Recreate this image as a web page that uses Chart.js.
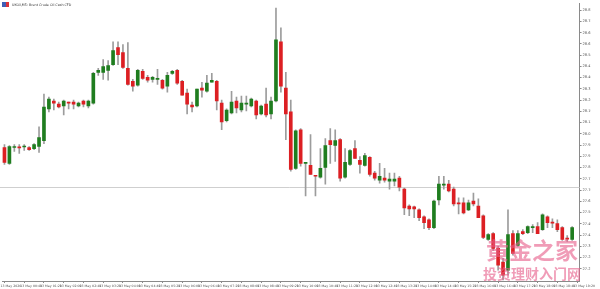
<!DOCTYPE html>
<html>
<head>
<meta charset="utf-8">
<script src="https://cdn.jsdelivr.net/npm/chart.js@4"></script>
<style>
html, body { margin: 0; padding: 0; background: #fff; }
</style>
</head>
<body>
<canvas id="chart" width="600" height="289"></canvas>
<script>
// candle prices, one entry per bar, left to right
const opens = [
    27.965, 27.866, 27.965, 27.965, 27.968, 27.965, 27.958, 27.971, 28.008, 28.205,
    28.254, 28.235, 28.223, 28.245, 28.248, 28.223, 28.254, 28.223, 28.241, 28.432,
    28.432, 28.445, 28.481, 28.586, 28.555, 28.457, 28.377, 28.352, 28.438, 28.401,
    28.389, 28.389, 28.383, 28.346, 28.426, 28.445, 28.377, 28.303, 28.229, 28.223,
    28.334, 28.315, 28.371, 28.377, 28.241, 28.131, 28.180, 28.254, 28.198, 28.235,
    28.223, 28.254, 28.174, 28.235, 28.174, 28.254, 28.623, 28.334, 28.186, 27.835,
    28.075, 27.866, 27.854, 27.792, 27.780, 27.841, 28.008, 27.977, 28.014, 27.780,
    27.860, 27.958, 27.885, 27.854, 27.903, 27.805, 27.761, 27.774, 27.755, 27.755,
    27.774, 27.706, 27.601, 27.595, 27.577, 27.534, 27.515, 27.466, 27.638, 27.731,
    27.737, 27.706, 27.620, 27.620, 27.577, 27.632, 27.601, 27.540, 27.392, 27.429,
    27.337, 27.251, 27.201, 27.429, 27.355, 27.441, 27.435, 27.466, 27.472, 27.454,
    27.534, 27.497, 27.491, 27.466, 27.398, 27.392
];
const highs = [
    27.983, 27.977, 27.983, 27.983, 27.983, 27.971, 27.989, 28.094, 28.297, 28.278,
    28.266, 28.248, 28.260, 28.248, 28.260, 28.248, 28.260, 28.260, 28.432, 28.457,
    28.512, 28.506, 28.623, 28.623, 28.605, 28.617, 28.389, 28.451, 28.451, 28.414,
    28.408, 28.451, 28.389, 28.432, 28.445, 28.451, 28.383, 28.328, 28.248, 28.328,
    28.371, 28.414, 28.426, 28.383, 28.260, 28.205, 28.315, 28.278, 28.285, 28.285,
    28.272, 28.260, 28.229, 28.334, 28.278, 28.832, 28.709, 28.432, 28.260, 28.075,
    28.082, 27.872, 28.045, 27.792, 27.958, 28.020, 28.082, 28.075, 28.020, 27.958,
    27.952, 28.008, 27.909, 27.928, 27.909, 27.817, 27.866, 27.835, 27.805, 27.805,
    27.786, 27.712, 27.608, 27.601, 27.583, 27.540, 27.521, 27.638, 27.786, 27.786,
    27.761, 27.718, 27.651, 27.651, 27.638, 27.681, 27.645, 27.546, 27.429, 27.435,
    27.349, 27.275, 27.577, 27.448, 27.448, 27.454, 27.478, 27.485, 27.497, 27.552,
    27.540, 27.521, 27.515, 27.472, 27.417, 27.472
];
const lows = [
    27.860, 27.860, 27.940, 27.928, 27.946, 27.946, 27.952, 27.934, 27.989, 28.186,
    28.198, 28.211, 28.168, 28.205, 28.205, 28.217, 28.217, 28.211, 28.235, 28.414,
    28.389, 28.383, 28.475, 28.481, 28.457, 28.352, 28.315, 28.346, 28.389, 28.371,
    28.371, 28.358, 28.328, 28.309, 28.420, 28.358, 28.291, 28.174, 28.186, 28.217,
    28.278, 28.309, 28.371, 28.198, 28.075, 28.124, 28.174, 28.180, 28.186, 28.192,
    28.217, 28.143, 28.168, 28.155, 28.143, 28.248, 28.309, 28.014, 27.817, 27.829,
    27.848, 27.663, 27.798, 27.663, 27.774, 27.737, 27.866, 27.878, 27.755, 27.774,
    27.854, 27.897, 27.805, 27.848, 27.786, 27.761, 27.743, 27.749, 27.706, 27.725,
    27.694, 27.546, 27.540, 27.528, 27.509, 27.460, 27.454, 27.460, 27.608, 27.706,
    27.688, 27.601, 27.552, 27.552, 27.571, 27.601, 27.528, 27.398, 27.386, 27.325,
    27.201, 27.140, 27.171, 27.294, 27.349, 27.423, 27.429, 27.435, 27.429, 27.448,
    27.466, 27.466, 27.441, 27.386, 27.380, 27.386
];
const closes = [
    27.872, 27.971, 27.971, 27.962, 27.971, 27.952, 27.983, 28.026, 28.217, 28.266,
    28.241, 28.217, 28.254, 28.241, 28.235, 28.241, 28.235, 28.254, 28.426, 28.445,
    28.469, 28.475, 28.568, 28.543, 28.463, 28.358, 28.346, 28.445, 28.395, 28.383,
    28.401, 28.392, 28.334, 28.414, 28.438, 28.365, 28.291, 28.235, 28.217, 28.328,
    28.321, 28.365, 28.383, 28.254, 28.124, 28.198, 28.248, 28.211, 28.241, 28.238,
    28.266, 28.168, 28.223, 28.168, 28.254, 28.635, 28.346, 28.174, 27.829, 28.069,
    27.866, 27.869, 27.798, 27.786, 27.835, 27.977, 27.983, 28.008, 27.774, 27.872,
    27.946, 27.897, 27.860, 27.915, 27.798, 27.774, 27.786, 27.761, 27.768, 27.768,
    27.718, 27.589, 27.583, 27.583, 27.528, 27.497, 27.466, 27.632, 27.737, 27.734,
    27.694, 27.614, 27.614, 27.558, 27.620, 27.614, 27.528, 27.405, 27.423, 27.337,
    27.232, 27.171, 27.423, 27.306, 27.429, 27.429, 27.472, 27.469, 27.429, 27.546,
    27.497, 27.494, 27.454, 27.392, 27.395, 27.466
];

// axis labels
const xTickLabels = [
    "13 May 2020", "13 May 00:40", "13 May 01:20", "13 May 02:00", "13 May 02:40",
    "13 May 03:20", "13 May 04:00", "13 May 04:40", "13 May 05:20", "13 May 06:00",
    "13 May 06:40", "13 May 07:20", "13 May 08:00", "13 May 08:40", "13 May 09:20",
    "13 May 10:00", "13 May 10:40", "13 May 11:20", "13 May 12:00", "13 May 12:40",
    "13 May 13:20", "13 May 14:00", "13 May 14:40", "13 May 15:20", "13 May 16:00",
    "13 May 16:40", "13 May 17:20", "13 May 18:00", "13 May 18:40", "13 May 19:20"
];
const yTicks = [
    28.82, 28.75, 28.68, 28.61, 28.54, 28.47, 28.40, 28.33, 28.26, 28.19, 28.12, 28.05,
    27.98, 27.91, 27.84, 27.77, 27.70, 27.63, 27.56, 27.49, 27.42, 27.35, 27.28, 27.21
];
const priceLine = 27.72;
const chartTitle = "UKOil,M5: Brent Crude Oil Cash CFD";

const upColor = "#1f7d1f";
const downColor = "#dc1f23";
const wickColor = "#9c9c9c";

// one empty slot at the end, like the terminal leaves
const categories = Array.from({ length: opens.length + 1 }, (_, i) => i);

// ➤ price line + caption + watermark
const overlay = {
    id: "overlay",
    beforeDatasetsDraw(chart) {
        const { ctx, chartArea, scales } = chart;
        const y = Math.round(scales.y.getPixelForValue(priceLine)) + 0.5;
        ctx.save();
        ctx.strokeStyle = "#cfcfcf";
        ctx.lineWidth = 1;
        ctx.beginPath();
        ctx.moveTo(chartArea.left - 2, y);
        ctx.lineTo(chartArea.right, y);
        ctx.stroke();
        ctx.restore();
    },
    afterDraw(chart) {
        const ctx = chart.ctx;
        ctx.save();
        // little terminal icon
        ctx.fillStyle = "#3f5fb5";
        ctx.fillRect(2, 2, 4, 5);
        ctx.fillStyle = "#d8323a";
        ctx.fillRect(6, 2, 3, 5);
        ctx.fillStyle = "#333";
        ctx.font = "3.3px 'DejaVu Sans'";
        ctx.textBaseline = "middle";
        ctx.textAlign = "left";
        ctx.fillText(chartTitle, 12, 4.8);

        ctx.fillStyle = "rgba(231, 96, 138, 0.62)";
        ctx.font = "bold 23px 'Noto Sans CJK SC'";
        ctx.fillText("黄金之家", 486, 250);
        ctx.font = "bold 14px 'Noto Sans CJK SC'";
        ctx.fillText("投资理财入门网", 483, 274);
        ctx.restore();
    }
};

const ctx = document.getElementById("chart").getContext("2d");
new Chart(ctx, {
    type: "bar",
    data: {
        labels: categories,
        datasets: [
            {
                label: "body",
                data: opens.map((o, i) => [o, closes[i]]),
                backgroundColor: opens.map((o, i) => closes[i] >= o ? upColor : downColor),
                barThickness: 3,
                minBarLength: 1,
                grouped: false,
                order: 1
            },
            {
                label: "wick",
                data: lows.map((l, i) => [l, highs[i]]),
                backgroundColor: wickColor,
                barThickness: 1,
                grouped: false,
                order: 2
            }
        ]
    },
    options: {
        responsive: false,
        animation: false,
        layout: { padding: { left: 2, top: 0, right: 0, bottom: 0 } },
        plugins: {
            legend: { display: false },
            tooltip: { enabled: false }
        },
        scales: {
            x: {
                type: "category",
                offset: true,
                border: { display: true, color: "#8a8a8a" },
                grid: {
                    offset: false,
                    drawOnChartArea: false,
                    tickLength: 2,
                    color: c => c.index % 4 === 0 ? "#8a8a8a" : "rgba(0,0,0,0)"
                },
                ticks: {
                    autoSkip: false,
                    maxRotation: 0,
                    minRotation: 0,
                    align: "start",
                    labelOffset: -4,
                    padding: 1,
                    color: "#555",
                    font: { size: 3.2, family: "DejaVu Sans" },
                    callback: (v, i) => i % 4 === 0 ? (xTickLabels[i / 4] || "") : ""
                },
                afterFit: s => { s.height = 8; }
            },
            y: {
                position: "right",
                min: 27.134,
                max: 28.863,
                border: { display: true, color: "#8a8a8a" },
                grid: { drawOnChartArea: false, tickLength: 2, color: "#8a8a8a" },
                afterBuildTicks: s => { s.ticks = yTicks.map(v => ({ value: v })); },
                ticks: {
                    padding: 1,
                    color: "#555",
                    font: { size: 3.6, family: "DejaVu Sans" },
                    callback: v => Number(v).toFixed(2)
                },
                afterFit: s => { s.width = 11; }
            }
        }
    },
    plugins: [overlay]
});
</script>
</body>
</html>
